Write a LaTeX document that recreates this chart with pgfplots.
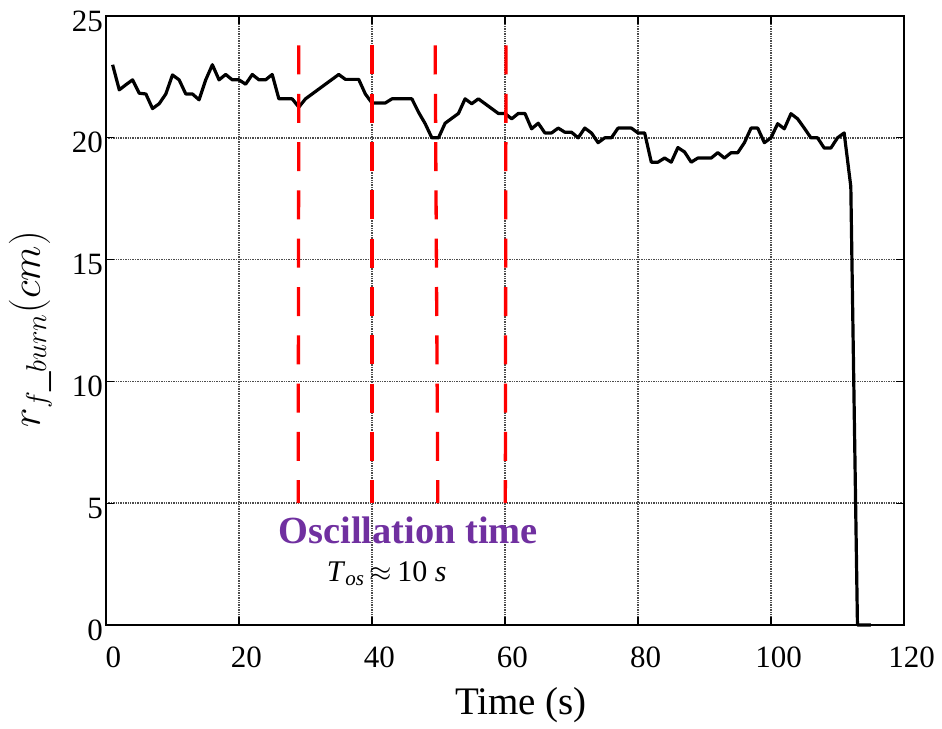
\documentclass[border=0pt]{standalone}
\usepackage{fontspec}
\setmainfont{Liberation Serif}
\usepackage{pgfplots}
\pgfplotsset{compat=1.18}
\definecolor{oscpurple}{RGB}{112,48,160}
\begin{document}
\begin{tikzpicture}
\begin{axis}[
  scale only axis,
  width=399bp, height=304.5bp,
  xmin=0, xmax=120, ymin=0, ymax=25,
  xtick={0,20,40,60,80,100,120}, ytick={0,5,10,15,20,25},
  xticklabels={0,20,40,60,80,100,120},
  yticklabels={0,5,10,15,20,25},
  grid=major,
  major grid style={line width=0.8bp, black!70, dash pattern=on 0.7bp off 0.5bp},
  axis line style={line width=0.6bp, black},
  tick style={line width=0.6bp, black},
  major tick length=4bp,
  tick align=inside,
  ticklabel style={font=\fontsize{15.5bp}{18bp}\selectfont},
  xticklabel style={yshift=-7.5bp, xshift=3.75bp},
  yticklabel style={xshift=2bp, yshift=-2.5bp},
  xlabel={Time (s)},
  xlabel style={font=\fontsize{19.5bp}{22bp}\selectfont, at={(rel axis cs:0.52,-0.1461)}, anchor=base},
  ylabel={$r_{f\_burn}(cm)$},
  ylabel style={font=\fontsize{19.5bp}{22bp}\selectfont, at={(rel axis cs:-0.0827,0.486)}, anchor=base},
  clip=false,
]
\path (rel axis cs:-0.1328,-0.1593) rectangle (rel axis cs:1.0476,1.0263);
\addplot[black, line width=1.6bp, line join=round] coordinates {
(1,23.0) (2,21.97) (3,22.18) (4,22.38) (5,21.83) (6,21.8) (7,21.2) (8,21.4) (9,21.8) (10,22.58)
(11,22.38) (12,21.8) (13,21.8) (14,21.56) (15,22.38) (16,23.0) (17,22.38) (18,22.6) (19,22.38) (20,22.38)
(21,22.2) (22,22.6) (23,22.38) (24,22.38) (25,22.6) (26,21.6) (27,21.6) (28,21.6) (29,21.26) (30,21.6)
(31,21.8) (32,22.0) (33,22.2) (34,22.4) (35,22.6) (36,22.4) (37,22.4) (38,22.4) (39,21.8) (40,21.43)
(41,21.43) (42,21.43) (43,21.6) (44,21.6) (45,21.6) (46,21.6) (47,21.05) (48,20.58) (49,20.0) (50,20.0)
(51,20.6) (52,20.8) (53,21.0) (54,21.6) (55,21.4) (56,21.6) (57,21.4) (58,21.2) (59,21.0) (60,21.0)
(61,20.78) (62,21.0) (63,21.0) (64,20.37) (65,20.6) (66,20.2) (67,20.2) (68,20.4) (69,20.23) (70,20.23)
(71,20.0) (72,20.4) (73,20.2) (74,19.8) (75,20.0) (76,20.0) (77,20.4) (78,20.4) (79,20.4) (80,20.2)
(81,20.2) (82,19.0) (83,19.0) (84,19.17) (85,19.0) (86,19.6) (87,19.42) (88,19.0) (89,19.17) (90,19.17)
(91,19.17) (92,19.39) (93,19.17) (94,19.39) (95,19.39) (96,19.8) (97,20.4) (98,20.4) (99,19.8) (100,20.0)
(101,20.58) (102,20.37) (103,20.99) (104,20.78) (105,20.4) (106,20.0) (107,20.0) (108,19.58) (109,19.58) (110,20.0)
(111,20.2) (112,18.0) (113,0) (115,0)
};
\addplot[red, line width=1.65bp, dash pattern=on 14.5bp off 9.65bp] coordinates {(29.0,23.79) (28.9,5.0)};
\addplot[red, line width=1.65bp, dash pattern=on 14.5bp off 9.65bp] coordinates {(40.0,23.79) (40.0,5.0)};
\addplot[red, line width=1.65bp, dash pattern=on 14.5bp off 9.65bp] coordinates {(49.5,23.79) (49.9,5.0)};
\addplot[red, line width=1.65bp, dash pattern=on 14.5bp off 9.65bp] coordinates {(60.15,23.79) (60.05,5.0)};
\node[font=\fontsize{19.2bp}{23bp}\selectfont\bfseries, text=oscpurple, anchor=base] at (axis cs:45.46,3.36) {Oscillation time};
\node[font=\fontsize{15bp}{18bp}\selectfont, anchor=base] at (axis cs:42.2,1.80) {\textit{T}\textsubscript{\textit{os}}\,$\approx$\,10 \textit{s}};
\end{axis}
\end{tikzpicture}
\end{document}
